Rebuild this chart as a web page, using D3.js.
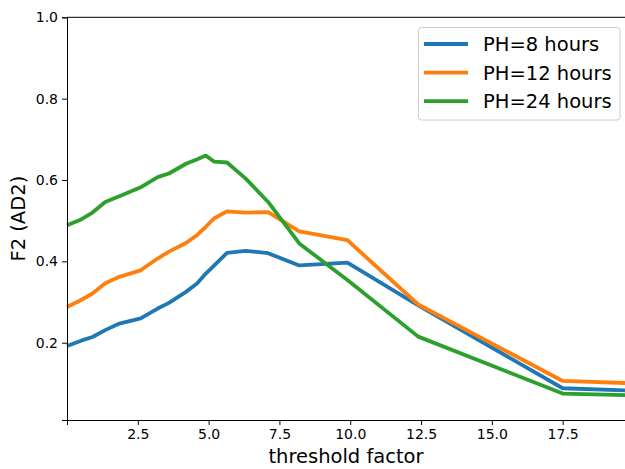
<!DOCTYPE html>
<html>
<head>
<meta charset="utf-8">
<title>F2 vs threshold factor</title>
<script src="https://cdn.jsdelivr.net/npm/d3@7"></script>
<style>
  body { margin: 0; background: #fff; }
  text { font-family: "DejaVu Sans", sans-serif; }
</style>
</head>
<body>
<svg id="chart"></svg>
<script>
// threshold factor values (x)
const thresholds = [0, 0.5, 0.9, 1.35, 1.85, 2.6, 3.2, 3.6, 4.2, 4.6, 4.9, 5.2, 5.65, 6.3, 7.1, 8.2, 9.9, 12.4, 17.5, 19.7]
const ph8 = [0.192, 0.205, 0.214, 0.231, 0.247, 0.26, 0.284, 0.298, 0.325, 0.346, 0.37, 0.39, 0.421, 0.426, 0.42, 0.39, 0.397, 0.292, 0.088, 0.083]
const ph12 = [0.288, 0.305, 0.321, 0.346, 0.362, 0.378, 0.407, 0.424, 0.445, 0.465, 0.485, 0.506, 0.523, 0.52, 0.521, 0.474, 0.452, 0.294, 0.106, 0.101]
const ph24 = [0.489, 0.503, 0.52, 0.546, 0.56, 0.582, 0.607, 0.616, 0.64, 0.651, 0.66, 0.645, 0.643, 0.604, 0.546, 0.444, 0.354, 0.215, 0.075, 0.071]
const seriesNames = ["PH=8 hours", "PH=12 hours", "PH=24 hours"]
const colors = ["#1f77b4", "#ff7f0e", "#2ca02c"]
const xTicks = [2.5, 5.0, 7.5, 10.0, 12.5, 15.0, 17.5]
const yTicks = [0.2, 0.4, 0.6, 0.8, 1.0]

const width = 625, height = 469
const margin = { left: 67, right: 0, top: 17.3, bottom: 49 }

const svg = d3.select("#chart").attr("width", width).attr("height", height)

const x = d3.scaleLinear().domain([0, 19.7]).range([margin.left, width - margin.right])
const y = d3.scaleLinear().domain([0.01, 1.0]).range([height - margin.bottom, margin.top])

const series = [ph8, ph12, ph24]

// lines
const line = d3.line()
    .x((d, i) => x(thresholds[i]))
    .y(d => y(d))

svg.append("g")
    .selectAll("path")
    .data(series)
    .enter()
    .append("path")
    .attr("d", d => line(d))
    .attr("fill", "none")
    .attr("stroke", (d, i) => colors[i])
    .attr("stroke-width", 3.8)
    .attr("stroke-linejoin", "round")
    .attr("stroke-linecap", "butt")

// axes
svg.append("g")
    .attr("transform", `translate(0, ${height - margin.bottom})`)
    .call(d3.axisBottom(x).tickValues(xTicks).tickFormat(d3.format(".1f")).tickSizeOuter(0).tickSize(5).tickPadding(4))
svg.append("g")
    .attr("transform", `translate(${margin.left}, 0)`)
    .call(d3.axisLeft(y).tickValues(yTicks).tickFormat(d3.format(".1f")).tickSizeOuter(0).tickSize(5).tickPadding(4))

svg.selectAll(".tick text").attr("font-size", 14).attr("fill", "#000")
svg.selectAll(".domain").attr("stroke", "#000").attr("stroke-width", 1)
svg.selectAll(".tick line").attr("stroke", "#000").attr("stroke-width", 1)

// top spine
svg.append("line")
    .attr("x1", margin.left).attr("x2", width)
    .attr("y1", margin.top).attr("y2", margin.top)
    .attr("stroke", "#000").attr("stroke-width", 1)

// axis labels
svg.append("text")
    .attr("x", (margin.left + width) / 2)
    .attr("y", 463)
    .attr("text-anchor", "middle")
    .attr("font-size", 19.5)
    .text("threshold factor")

svg.append("text")
    .attr("transform", `translate(25, ${(margin.top + height - margin.bottom) / 2}) rotate(-90)`)
    .attr("text-anchor", "middle")
    .attr("font-size", 19.5)
    .text("F2 (AD2)")

// legend
const legend = svg.append("g")
legend.append("rect")
    .attr("x", 418.5).attr("y", 27.5)
    .attr("width", 201.5).attr("height", 92.5)
    .attr("rx", 3)
    .attr("fill", "#fff").attr("fill-opacity", 0.8)
    .attr("stroke", "#ccc").attr("stroke-width", 1)

seriesNames.forEach((name, i) => {
    const yy = 44 + i * 28.6
    legend.append("line")
        .attr("x1", 424).attr("x2", 468)
        .attr("y1", yy).attr("y2", yy)
        .attr("stroke", colors[i]).attr("stroke-width", 3.8)
    legend.append("text")
        .attr("x", 483).attr("y", yy)
        .attr("dy", "0.36em")
        .attr("font-size", 19.5)
        .text(name)
})
</script>
</body>
</html>
